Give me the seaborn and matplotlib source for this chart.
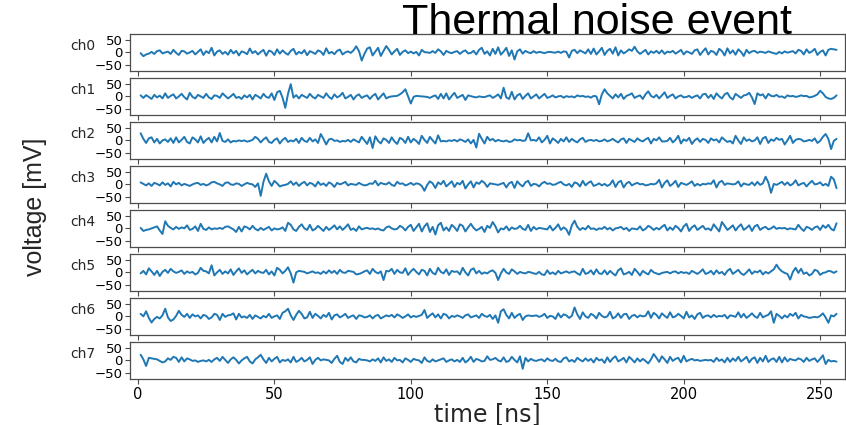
import numpy as np
import pandas as pd
import matplotlib
matplotlib.use("Agg")
import matplotlib.pyplot as plt
import seaborn as sns

channels = ["ch0", "ch1", "ch2", "ch3", "ch4", "ch5", "ch6", "ch7"]
time_ns = list(range(1, 257))
xticks = [0, 50, 100, 150, 200, 250]
yticks = [-50, 0, 50]

ch0 = [
    -3, -15, -8, -5, 2, -6, 5, 8, -4, 0, 3, -6, 10, -2, -10, 6,
    4, -5, 0, 6, -8, 2, 12, -10, 5, -3, 18, -12, 3, 8, -6, 2,
    -9, 10, -4, 6, -12, 4, 0, -7, 15, -3, 5, -8, 2, 10, -13, 7,
    3, -10, 12, -5, 8, -2, -9, 6, 14, -8, 2, -4, 9, -11, 5, 0,
    -6, 8, 3, -10, 16, -4, 2, -7, 6, 11, -8, 0, 4, -2, 8, 24,
    5, -32, -6, 15, 20, -12, 3, 18, -14, 6, 25, 10, -8, 4, 14, -10,
    2, 8, -3, 3, -4, 2, -12, 10, 1, 0, -2, 5, -2, 12, 4, -10,
    6, 0, -3, 2, 5, -6, 3, 8, -4, -2, 6, -8, 10, 18, -6, 4,
    -12, 14, -6, 20, -9, 3, 18, -14, 8, -28, 4, 12, -5, 6, 0, -3,
    5, -2, 2, 0, -3, 1, 2, 0, -1, 3, -2, 4, 2, -20, 6, 10,
    -3, 8, 2, -4, 12, -6, 15, -8, 4, 18, -10, 6, 14, -5, 20, -12,
    8, -4, 3, 12, 6, 22, 4, -6, 2, 10, -8, 4, -2, 6, -4, 8,
    -6, 3, 0, 6, -5, 2, 10, -8, 4, 0, -6, 8, 12, -10, 4, 16,
    -8, 6, 2, -10, 14, 5, -12, 16, -4, 8, -9, 12, 2, -14, 10, -3,
    4, 6, -2, 3, 1, -2, 4, 0, -3, -6, 2, -4, 4, -1, 2, 5,
    -4, 10, 6, -8, 12, -2, 4, 14, -10, 2, 8, -12, 10, 14, 12, 10,
]
ch1 = [
    4, -6, 5, -2, -10, 6, -4, 3, -8, 12, -6, 2, 8, -8, 0, 10,
    -3, -12, 14, -2, -8, 6, 0, -6, 10, -4, -10, 4, 2, -6, 12, 2,
    -8, 0, 10, -6, -2, -10, 4, -4, 6, -12, 6, 0, -8, 10, -2, -6,
    12, -14, 16, 22, -5, -45, 10, 48, -5, 5, -8, 6, 0, -6, 10, -2,
    -8, 6, 0, -6, 12, -2, -10, 8, -4, 2, 14, -8, -2, 6, -12, 2,
    8, -6, 0, 4, -10, 2, 10, -12, 0, 12, -8, -2, 0, 1, 2, 8,
    16, 28, 0, -28, -2, 2, 1, 0, -1, -2, -6, 0, 4, -10, 10, -8,
    12, -12, 2, 14, -6, 0, 6, -14, 4, 1, -2, -4, 0, -2, -3, 1,
    4, -6, 0, 8, -8, 34, -4, -10, 18, -12, 4, 10, -10, 2, 12, -8,
    0, 8, -8, 1, 10, -6, -2, 4, -4, 0, 2, -5, 1, -2, 0, -4,
    4, 0, 2, -2, 0, -5, 2, 0, -31, 8, 28, 12, 2, -8, 8, -4,
    10, -10, 2, 6, 12, -6, 0, 4, -10, 8, 20, 2, -4, 6, -8, 4,
    16, -6, 2, 8, -8, 0, 4, -4, -2, 2, -6, 0, 4, -8, 8, 10,
    -6, 6, -10, 12, 0, -8, 8, 14, -4, -12, 10, 2, -6, 4, 6, 14,
    -4, -30, 12, 4, 8, -8, 10, 2, 0, 6, -2, 0, -6, 4, 0, 2,
    -2, 0, 4, 1, 2, -4, -2, 2, 8, 22, 12, -2, -8, -10, -6, 4,
]
ch2 = [
    28, 6, -10, 8, 12, -8, 6, -12, 0, 4, -6, 8, -10, 12, -8, 2,
    14, -6, -12, 12, 4, -8, 16, -10, 2, 10, -8, 14, -4, 29, -2, -6,
    4, -8, -2, -4, 0, -3, 0, -5, -2, 2, 14, 6, -8, 4, 12, -6,
    -10, 2, 8, -12, 2, 10, -6, 0, -4, 6, -10, 10, -2, -6, 10, -4,
    4, -10, 25, 6, -16, 4, 6, -2, 0, -6, -2, -4, 2, -6, 4, -2,
    -8, 14, 0, -14, 12, -30, 16, -2, -12, 8, 2, -10, 12, -4, -14, 10,
    4, -10, 14, -8, 6, -2, -14, 18, 2, -10, 14, 0, -12, 20, -4, -2,
    -4, 0, -2, 2, -4, 4, 0, -6, 4, -12, 2, -28, 26, 6, -12, 14,
    0, 6, -4, 2, -2, -4, 0, -6, -4, 4, 0, 2, -2, 0, 28, 0,
    2, -2, 12, -8, 2, 18, -12, 8, 0, -10, 6, -4, 12, -6, 6, -2,
    -8, 4, 10, -6, 0, 2, -2, 2, -4, -2, 4, -4, 0, 6, -2, -8,
    4, 8, -10, 6, 0, -6, 8, 0, -4, 4, 10, -12, 6, 0, 12, -4,
    -4, -2, 10, -8, 2, 18, -12, 4, -2, 10, -14, 0, 8, -6, 6, 2,
    -10, 8, 0, 4, -8, 12, 2, -6, -2, -12, 18, 0, -14, 12, -2, 4,
    -4, 0, 12, -14, 8, 14, -10, 4, -2, 10, 2, 6, -16, 0, 18, -10,
    2, 6, 4, -4, -2, 2, -2, 8, -10, -2, 14, 25, 6, -34, -2, 6,
]
ch3 = [
    8, 2, -4, 4, -6, 6, 2, -4, 8, -2, 4, -8, 10, 0, 6, -4,
    2, -2, -6, 0, 4, 6, -2, 2, -4, 0, 8, 10, 4, 0, -6, 6,
    8, 0, -2, 4, 2, -6, 0, 6, 2, 0, -10, 4, -45, 10, 42, 12,
    -6, 14, 4, -8, -4, -2, 2, 12, -2, 8, -6, 4, 10, -4, 6, 2,
    -8, 10, -2, 4, -6, 8, 2, -10, 6, 0, 4, 10, -4, 2, 0, -2,
    6, 0, -4, -2, 4, 2, 14, -4, 6, 2, 0, 8, -2, -6, 10, 2,
    4, -4, 0, 6, -2, 4, 2, -6, -25, -2, 12, 4, -14, 8, 0, 14,
    -8, 2, 12, -10, 6, 0, 14, -16, 0, 12, -12, 8, 2, 14, 6, -10,
    4, 2, 0, -2, 2, 6, -12, 4, 10, -14, 12, 0, -8, 8, 14, -6,
    2, 0, -8, 4, 10, 2, 4, -2, 0, 6, 10, 0, -4, 2, -10, 8,
    4, -8, 14, -4, 6, 12, -6, -2, 4, -4, 2, -6, 0, 16, -10, 8,
    14, -12, 4, 10, -4, 2, 6, 0, 2, -4, -2, 2, 0, 4, 18, -12,
    6, 16, -6, 2, 14, -10, 6, 2, -2, 4, 12, -6, 2, -4, 2, 0,
    4, 2, 16, -12, 8, 14, -2, 4, 2, 0, 2, 12, -8, 4, 0, -2,
    8, -4, 10, -2, 4, 30, 8, -33, 2, -2, 4, 10, -2, 8, -4, 2,
    16, -4, 2, 6, -8, 4, 14, 0, 2, 8, -4, 2, -6, 30, 20, -15,
]
ch4 = [
    2, -10, -6, -4, 0, 4, 8, -8, -22, 28, 10, 2, -4, 6, -2, 4,
    0, 12, -6, -2, 8, -10, 18, -2, -6, 4, -4, 0, -2, 2, -2, 6,
    8, 2, -4, -14, 6, -12, 8, 4, -4, 10, -2, -8, 2, -6, 0, 6,
    -8, 0, -4, -2, 4, -10, 22, 14, -4, -10, 6, 16, 0, -6, 14, -8,
    -2, 10, 0, -10, 6, -6, 2, 12, -4, 8, -6, 4, 16, -6, 0, -10,
    8, -4, 0, 2, -2, 0, -4, 0, -6, -8, 4, 8, 0, -4, -2, 10,
    4, -8, 6, 14, -10, 4, 18, -12, 8, 20, -14, 6, -24, 12, 22, -8,
    4, -10, 14, 4, -10, 16, 10, -12, 4, 18, 2, -8, -2, 6, -14, 10,
    2, 25, 8, -16, 0, -4, 8, -8, 4, -2, 0, 10, -2, -6, 14, -10,
    6, -4, 2, 0, -2, -4, 10, -8, 2, 16, -6, 4, -4, -25, 12, 30,
    6, -6, 2, -4, 10, -2, 0, -6, 0, -2, 6, -4, 2, -8, 0, 2,
    6, -4, 2, -10, 0, -2, -4, 8, -8, -2, 10, 4, -6, 2, -4, 6,
    14, -8, 4, -6, 10, 2, -12, 8, 18, -10, 4, 12, -6, 2, 10, -4,
    0, -8, 16, 2, -12, 25, 10, -6, 2, 12, -8, 6, 16, -6, 2, 12,
    -10, 8, 14, -6, 2, 6, -4, 0, 8, -2, 2, 0, 2, -4, 0, -2,
    -4, 14, 0, -10, 6, 2, -6, 4, 8, -6, 12, 2, 14, -2, -8, 20,
]
ch5 = [
    -4, 6, -8, 16, 4, -10, 6, -14, 2, 10, -2, 14, 4, -2, 2, 8,
    -6, 4, -2, 2, -8, -2, 18, 6, 4, -4, 28, -12, 0, 10, -6, 4,
    -4, 12, -10, 4, 16, -2, 8, -8, 2, 10, -4, 6, 0, -2, 10, -8,
    4, -12, 18, 10, -4, 6, 20, -4, -40, 0, 6, 4, 2, -4, 0, 4,
    -2, 0, -6, 4, -4, 8, -2, 6, -6, 10, 0, -2, 6, 4, 2, -8,
    -6, -2, 4, 8, -6, 14, 2, -4, 4, -30, 6, 4, 14, -6, 10, 0,
    -2, 16, -10, 4, 14, 2, -8, 10, 6, -12, 14, -2, -8, 18, 2, -4,
    12, -10, 6, 2, 4, -8, 18, 0, -12, 10, 16, -4, 6, -6, 0, -4,
    4, 8, -2, -30, -4, 14, 0, -6, 12, 4, -6, 2, -2, -4, 2, 0,
    -4, -6, 2, -8, -10, 8, -6, 0, -8, 6, -4, 0, 4, -2, 2, 4,
    -4, -10, 14, -6, -2, 8, -8, 12, -4, -6, 8, -8, 6, -4, -12, 8,
    16, -8, -4, 2, -10, 14, 2, -12, 6, -2, -8, 10, 0, -4, -8, -2,
    0, 2, -4, 2, 4, -4, 2, -2, 0, -6, 6, 0, -6, 2, 12, -6,
    -2, 6, -8, 8, -4, 2, -10, 6, 14, -6, 2, 10, -4, -10, 0, 12,
    -6, 4, 0, 8, -8, 2, -4, 4, 12, 30, 14, 4, -2, -6, -28, 2,
    18, -2, 14, -6, 0, -12, -6, 10, 6, -10, -2, 0, 6, 4, -2, 4,
]
ch6 = [
    10, 0, 20, -6, -24, -10, -2, -8, 4, 30, -4, -18, -12, 2, 22, 6,
    -2, 10, -6, 8, 0, 4, -8, 6, 2, -10, -4, 10, 6, -14, 10, -2,
    4, 6, 12, -12, 10, -4, 0, -6, 6, -10, 4, -2, -8, 2, -4, 10,
    -6, 0, 4, -10, 14, 20, 30, 4, -14, 6, 22, 10, -8, -4, 18, -6,
    10, 2, -8, 6, -2, 14, -12, 4, 8, -4, 2, 10, -6, 0, 4, -10,
    4, 2, -4, -2, 4, -8, 2, 6, -8, -2, 4, 0, 6, -4, 8, 2,
    -6, 0, 8, -4, 2, -2, 2, 6, 25, -6, 4, 12, -4, 8, -8, 10,
    6, -8, 2, -2, 4, 0, -6, 4, 8, -4, 0, 4, -6, 10, 2, -2,
    6, -10, 4, -25, 20, 28, 6, -8, 14, -6, 4, 10, -14, 0, 4, 2,
    2, 4, -2, 2, 10, -6, 2, 0, -10, 12, -4, 8, 4, -6, 2, 35,
    8, -10, 16, 0, -6, 10, 4, -8, 14, 2, -4, 0, 18, -8, -2, 12,
    -6, 8, 10, -10, 2, 6, -4, 4, 0, 2, 20, -6, 14, 6, -8, 12,
    2, -6, 16, -4, 0, 10, 2, -8, 18, -4, 4, -10, 8, 14, -6, 2,
    4, -4, 6, -2, 2, 0, 6, -8, 4, 2, -2, 16, -4, 10, -6, 2,
    12, 0, -6, 14, -4, 2, 6, 20, -25, 10, 2, -8, 4, -4, 10, 2,
    14, -8, 6, 0, -2, -6, -4, -2, -4, 2, 12, -4, -25, 4, 0, 10,
]
ch7 = [
    22, 4, -22, 10, 8, 6, 4, -2, -8, -4, 8, 2, 14, 10, -6, 12,
    -4, 8, 4, -2, 0, -6, -2, 0, -4, 2, -6, 4, 10, -2, 14, 2,
    -10, 4, 12, 2, -12, 0, 8, 14, -4, -12, 4, 12, 22, 4, -10, 10,
    -4, 6, 14, -8, 2, -2, 4, -8, 14, -6, 0, 10, -4, 2, 12, -14,
    2, 10, 0, 4, 2, 0, -10, 6, 18, -6, -14, 10, -2, 12, -4, -8,
    6, 2, 2, 0, -4, 4, -2, 8, -8, 12, -2, 4, -6, 10, 0, 2,
    -8, 8, 2, -6, 6, 2, 0, -10, 12, -2, -6, 4, -4, 0, 4, 8,
    -6, 0, 4, -4, 2, -6, 10, -8, 0, 14, -6, 6, 2, -4, -2, 16,
    2, 4, 10, 0, -4, 12, -6, -2, 14, 2, -8, 16, -33, 10, -4, 6,
    0, -2, 2, 4, -4, 8, 0, -2, 6, -4, -6, 8, 12, -4, 2, -6,
    10, 2, -4, 8, -2, 6, -8, 10, 0, 4, -10, 12, -6, 8, 16, -4,
    2, 10, -8, 14, 4, -8, 8, -4, 6, -2, -12, 4, 25, 10, -6, 16,
    4, -10, 14, -2, 6, 10, -8, 18, -4, 2, 6, 0, 2, -2, 0, 2,
    0, 2, -6, 10, -2, 4, -8, 10, -6, 8, -2, 14, -4, 4, 14, -8,
    6, 12, -10, 10, -4, 18, -6, 4, 8, -6, 14, -8, 12, -4, 6, 2,
    0, 8, 4, -6, 10, -2, 4, 8, -6, 6, 20, -14, 2, -4, -2, -5,
]
voltages = [ch0, ch1, ch2, ch3, ch4, ch5, ch6, ch7]

frames = []
for name, vals in zip(channels, voltages):
    frames.append(pd.DataFrame({"time": time_ns, "voltage": vals, "channel": name}))
df = pd.concat(frames, ignore_index=True)

sns.set_style("ticks")
plt.rcParams["font.family"] = ["DejaVu Sans"]
plt.rcParams["axes.edgecolor"] = "0.3"
plt.rcParams["xtick.color"] = "0.3"
plt.rcParams["ytick.color"] = "0.3"
plt.rcParams["xtick.labelcolor"] = "black"
plt.rcParams["ytick.labelcolor"] = "black"

W, H = 846, 425
fig = plt.figure(figsize=(W / 100, H / 100), dpi=100)

left_px, right_px = 130, 845
top0_px, step_px, height_px = 34.3, 44.0, 36.7

axes = []
for k, name in enumerate(channels):
    top = top0_px + k * step_px
    ax = fig.add_axes([left_px / W, 1 - (top + height_px) / H,
                       (right_px - left_px) / W, height_px / H])
    sub = df[df["channel"] == name]
    sns.lineplot(data=sub, x="time", y="voltage", ax=ax, color="#1f77b4",
                 linewidth=1.4, legend=False)
    ax.set_xlim(-2.9, 259.1)
    ax.set_ylim(-73, 71)
    ax.set_yticks(yticks)
    ax.set_xticks(xticks)
    ax.tick_params(axis="y", labelsize=9.5, length=3.5, width=0.8, pad=2)
    ax.tick_params(axis="x", labelsize=10.5, length=3.5, width=0.8, pad=2)
    for s in ax.spines.values():
        s.set_linewidth(0.9)
    ax.set_ylabel(name, rotation=0, fontsize=10, labelpad=8)
    ax.set_xlabel("")
    if k < len(channels) - 1:
        ax.tick_params(axis="x", labelbottom=False)
    axes.append(ax)

axes[-1].set_xlabel("time [ns]", fontsize=17, labelpad=0)

fig.text(35 / W, 1 - 207 / H, "voltage [mV]", rotation=90, ha="center", va="center",
         fontsize=18, family=["Liberation Sans", "DejaVu Sans"])
fig.text(597 / W, 1 - 23 / H, "Thermal noise event", ha="center", va="center",
         fontsize=31, family=["Liberation Sans", "DejaVu Sans"], color="black", zorder=10)

fig.savefig("out.png", dpi=100)
